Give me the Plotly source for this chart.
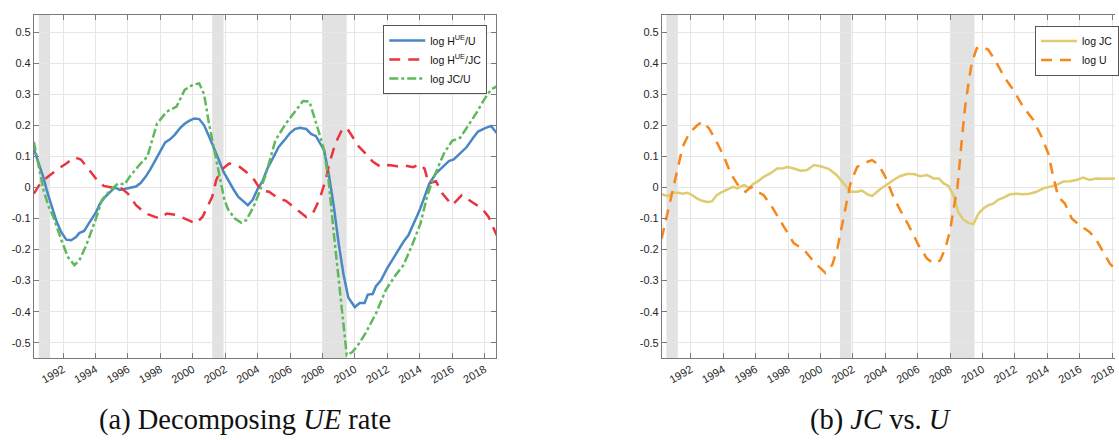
import plotly.graph_objects as go

# ---------------- data ----------------
blue_x = [1990.2, 1990.5, 1990.8, 1991.0, 1991.3, 1991.6, 1991.9, 1992.2, 1992.5, 1992.8, 1993.0, 1993.3,
          1993.6, 1994.0, 1994.3, 1994.6, 1994.9, 1995.2, 1995.5, 1995.8, 1996.1, 1996.5, 1996.8, 1997.1,
          1997.4, 1997.7, 1998.0, 1998.3, 1998.6, 1998.9, 1999.2, 1999.5, 1999.8, 2000.1, 2000.4, 2000.7,
          2001.0, 2001.3, 2001.6, 2001.9, 2002.2, 2002.5, 2002.8, 2003.1, 2003.4, 2003.7, 2004.0, 2004.3,
          2004.6, 2005.0, 2005.3, 2005.7, 2006.0, 2006.3, 2006.6, 2007.0, 2007.3, 2007.6, 2007.9, 2008.1,
          2008.4, 2008.7, 2009.0, 2009.3, 2009.6, 2010.0, 2010.3, 2010.6, 2010.8, 2011.1, 2011.3, 2011.6,
          2012.0, 2012.4, 2012.7, 2013.0, 2013.3, 2013.6, 2014.0, 2014.3, 2014.6, 2015.0, 2015.4, 2015.8,
          2016.1, 2016.5, 2016.9, 2017.3, 2017.6, 2018.0, 2018.4, 2018.75]
blue_y = [0.124, 0.08, 0.03, -0.01, -0.06, -0.11, -0.145, -0.168, -0.17, -0.16, -0.147, -0.14,
          -0.115, -0.083, -0.05, -0.03, -0.015, 0.0, -0.008, -0.005, 0.0, 0.003, 0.015, 0.035,
          0.06, 0.09, 0.12, 0.145, 0.155, 0.17, 0.19, 0.205, 0.215, 0.222, 0.22, 0.2,
          0.165, 0.13, 0.09, 0.05, 0.02, -0.005, -0.03, -0.045, -0.057, -0.04, -0.005, 0.02,
          0.06, 0.1, 0.13, 0.155, 0.175, 0.188, 0.192, 0.188, 0.172, 0.165, 0.14, 0.12,
          0.04, -0.06, -0.18, -0.28, -0.355, -0.385, -0.372, -0.372, -0.345, -0.343, -0.318, -0.3,
          -0.26, -0.225, -0.2, -0.175, -0.154, -0.12, -0.073, -0.03, 0.013, 0.045, 0.065, 0.085,
          0.09, 0.11, 0.13, 0.16, 0.18, 0.19, 0.198, 0.175]

red_x = [1990.2, 1990.5, 1990.8, 1991.2, 1991.6, 1992.2, 1992.7, 1993.1, 1993.4, 1993.75, 1994.1, 1994.5,
         1995.0, 1995.6, 1996.0, 1996.5, 1997.1, 1997.95, 1998.4, 1999.0, 1999.5, 2000.2, 2000.6, 2000.9,
         2001.2, 2001.45, 2001.75, 2002.25, 2002.9, 2003.3, 2003.8, 2004.2, 2004.7, 2005.3, 2005.75, 2006.35,
         2007.0, 2007.4, 2007.8, 2008.2, 2008.4, 2008.8, 2009.2, 2009.5, 2009.85, 2010.25, 2010.65, 2011.1,
         2011.6, 2012.1, 2012.6, 2013.1, 2013.6, 2014.0, 2014.3, 2014.56, 2015.0, 2015.4, 2016.0, 2016.6,
         2017.2, 2017.85, 2018.25, 2018.75]
red_y = [-0.02, 0.005, 0.024, 0.04, 0.056, 0.077, 0.097, 0.09, 0.07, 0.045, 0.024, 0.005,
         0.0, -0.003, -0.02, -0.057, -0.084, -0.1, -0.084, -0.089, -0.1, -0.116, -0.095, -0.06,
         -0.03, 0.024, 0.056, 0.077, 0.066, 0.05, 0.024, -0.009, -0.014, -0.036, -0.043, -0.068,
         -0.095, -0.084, -0.041, 0.024, 0.072, 0.142, 0.185, 0.192, 0.163, 0.131, 0.11, 0.083,
         0.066, 0.072, 0.068, 0.07, 0.065, 0.075, 0.06, 0.013, 0.02, -0.02, -0.057, -0.025,
         -0.046, -0.068, -0.095, -0.154]

green_x = [1990.2, 1990.5, 1990.8, 1991.1, 1991.4, 1991.9, 1992.3, 1992.7, 1993.0, 1993.4, 1993.7, 1994.0,
           1994.4, 1994.9, 1995.4, 1995.8, 1996.1, 1996.7, 1997.2, 1997.5, 1997.8, 1998.4, 1999.0, 1999.5,
           2000.0, 2000.4, 2000.7, 2001.0, 2001.3, 2001.6, 2001.95, 2002.2, 2002.6, 2003.0, 2003.3, 2003.7,
           2004.0, 2004.5, 2005.1, 2005.75, 2006.4, 2006.8, 2007.2, 2007.5, 2007.8, 2008.1, 2008.4, 2008.7,
           2009.0, 2009.3, 2009.5, 2009.85, 2010.25, 2010.65, 2011.3, 2011.9, 2012.5, 2013.0, 2013.5, 2014.05,
           2014.45, 2014.8, 2015.2, 2015.5, 2016.0, 2016.5, 2017.0, 2017.5, 2018.0, 2018.4, 2018.75]
green_y = [0.147, 0.07, -0.01, -0.06, -0.095, -0.17, -0.224, -0.25, -0.235, -0.19, -0.15, -0.105,
           -0.04, -0.01, 0.013, 0.01, 0.034, 0.072, 0.099, 0.15, 0.206, 0.244, 0.26, 0.314,
           0.33, 0.335, 0.30, 0.206, 0.131, 0.046, -0.04, -0.073, -0.1, -0.114, -0.105, -0.068,
           -0.03, 0.04, 0.152, 0.206, 0.25, 0.278, 0.276, 0.228, 0.175, 0.12, 0.013, -0.148,
           -0.3, -0.46, -0.54, -0.53, -0.503, -0.47, -0.406, -0.331, -0.283, -0.25, -0.19, -0.116,
           -0.03, 0.024, 0.07, 0.11, 0.15, 0.16, 0.2, 0.24, 0.285, 0.315, 0.325]

jc_x = [1990.2, 1990.6, 1990.87, 1991.2, 1991.5, 1991.8, 1992.1, 1992.4, 1992.7, 1993.0, 1993.3, 1993.6,
        1993.95, 1994.26, 1994.6, 1994.87, 1995.3, 1995.6, 1995.9, 1996.1, 1996.5, 1996.9, 1997.33, 1997.7,
        1997.95, 1998.36, 1998.77, 1999.18, 1999.6, 2000.0, 2000.5, 2001.0, 2001.44, 2001.85, 2002.26, 2002.56,
        2002.9, 2003.18, 2003.6, 2004.0, 2004.5, 2004.9, 2005.33, 2005.75, 2006.15, 2006.57, 2006.98, 2007.3,
        2007.6, 2007.9, 2008.2, 2008.5, 2008.8, 2009.13, 2009.44, 2009.75, 2010.05, 2010.36, 2010.67, 2010.98,
        2011.3, 2011.7, 2012.1, 2012.5, 2012.9, 2013.33, 2013.75, 2014.15, 2014.56, 2014.98, 2015.38, 2015.8,
        2016.2, 2016.6, 2017.0, 2017.44, 2017.85, 2018.15, 2018.75]
jc_y = [-0.022, -0.028, -0.017, -0.017, -0.02, -0.017, -0.025, -0.036, -0.043, -0.047, -0.045, -0.025,
        -0.014, -0.007, 0.002, -0.003, 0.008, -0.003, 0.013, 0.018, 0.034, 0.045, 0.061, 0.062,
        0.066, 0.061, 0.054, 0.056, 0.072, 0.068, 0.06, 0.04, 0.013, -0.014, -0.014, -0.01,
        -0.022, -0.028, -0.009, 0.007, 0.024, 0.036, 0.043, 0.043, 0.036, 0.04, 0.029, 0.029,
        0.013, 0.005, -0.025, -0.079, -0.103, -0.114, -0.118, -0.084, -0.068, -0.057, -0.052, -0.039,
        -0.033, -0.022, -0.02, -0.022, -0.02, -0.014, -0.003, 0.002, 0.008, 0.019, 0.02, 0.024,
        0.032, 0.024, 0.029, 0.028, 0.029, 0.029, 0.03]

u_x = [1990.2, 1990.46, 1990.87, 1991.18, 1991.5, 1991.9, 1992.4, 1992.72, 1993.13, 1993.64, 1994.05, 1994.46,
       1994.98, 1995.38, 1995.7, 1996.0, 1996.5, 1997.0, 1997.5, 1997.95, 1998.36, 1998.98, 1999.6, 2000.0,
       2000.3, 2000.72, 2001.03, 2001.27, 2001.54, 2001.85, 2002.26, 2002.7, 2003.18, 2003.6, 2004.0, 2004.5,
       2004.92, 2005.44, 2006.05, 2006.57, 2006.98, 2007.38, 2007.7, 2008.0, 2008.2, 2008.45, 2008.7, 2008.9,
       2009.13, 2009.33, 2009.64, 2009.95, 2010.36, 2010.87, 2011.38, 2011.9, 2012.5, 2013.13, 2013.64, 2014.05,
       2014.36, 2014.67, 2015.08, 2015.5, 2016.0, 2016.6, 2017.03, 2017.44, 2017.85, 2018.15, 2018.5, 2018.75]
u_y = [-0.165, -0.105, -0.01, 0.056, 0.131, 0.174, 0.2, 0.212, 0.19, 0.142, 0.099, 0.045,
       0.002, -0.014, 0.002, -0.01, -0.025, -0.062, -0.105, -0.148, -0.18, -0.2, -0.24, -0.26,
       -0.275, -0.25, -0.2, -0.138, -0.062, 0.013, 0.066, 0.078, 0.088, 0.072, 0.034, -0.03,
       -0.073, -0.122, -0.186, -0.229, -0.245, -0.235, -0.197, -0.138, -0.073, 0.0, 0.142, 0.249,
       0.335, 0.4, 0.448, 0.454, 0.443, 0.4, 0.352, 0.314, 0.26, 0.217, 0.163, 0.11,
       0.034, -0.03, -0.052, -0.1, -0.122, -0.143, -0.17, -0.208, -0.245, -0.261, -0.28, -0.29]

recessions = [(1990.5, 1991.2), (2001.2, 2001.9), (2008.0, 2009.5)]
year_ticks = list(range(1992, 2019, 2))
y_ticks = [0.5, 0.4, 0.3, 0.2, 0.1, 0, -0.1, -0.2, -0.3, -0.4, -0.5]
y_tick_labels = ["0.5", "0.4", "0.3", "0.2", "0.1", "0", "-0.1", "-0.2", "-0.3", "-0.4", "-0.5"]

# ---------------- figure ----------------
W, H = 1119, 440
fig = go.Figure()

BLUE = "#4a87c5"
RED = "#e8343c"
GREEN = "#5fb85a"
YELLOW = "#dfcb70"
ORANGE = "#f7861c"

fig.add_trace(go.Scatter(x=blue_x, y=blue_y, mode="lines", name="log H<sup>UE</sup>/U",
                         line=dict(color=BLUE, width=2.5), xaxis="x", yaxis="y", legend="legend"))
fig.add_trace(go.Scatter(x=red_x, y=red_y, mode="lines", name="log H<sup>UE</sup>/JC",
                         line=dict(color=RED, width=2.5, dash="11px,8px"), xaxis="x", yaxis="y", legend="legend"))
fig.add_trace(go.Scatter(x=green_x, y=green_y, mode="lines", name="log JC/U",
                         line=dict(color=GREEN, width=2.5, dash="9px,3px,3px,3px"), xaxis="x", yaxis="y", legend="legend"))
fig.add_trace(go.Scatter(x=jc_x, y=jc_y, mode="lines", name="log JC",
                         line=dict(color=YELLOW, width=2.5), xaxis="x2", yaxis="y2", legend="legend2"))
fig.add_trace(go.Scatter(x=u_x, y=u_y, mode="lines", name="log U",
                         line=dict(color=ORANGE, width=2.5, dash="11px,8px"), xaxis="x2", yaxis="y2", legend="legend2"))

# pixel geometry
top_px, bot_px = 15, 358
lx0, lx1 = 34, 498
rx0 = 664.3

shapes = []
for xr in ["x", "x2"]:
    for a, b in recessions:
        shapes.append(dict(type="rect", xref=xr, yref=("y domain" if xr == "x" else "y2 domain"),
                           x0=a, x1=b, y0=0, y1=1, fillcolor="#e2e2e2", line=dict(width=0), layer="below"))

tickfont = dict(family="Liberation Sans, Arial, sans-serif", size=11, color="#262626")
common_x = dict(tickmode="array", tickvals=year_ticks, ticktext=[str(t) for t in year_ticks],
                tickangle=-30, tickfont=tickfont, showgrid=True, gridcolor="#e6e6e6", gridwidth=1,
                showline=True, linecolor="#7a7a7a", linewidth=1, ticks="inside", ticklen=5,
                tickcolor="#7a7a7a", zeroline=False, automargin=False)
common_y = dict(tickmode="array", tickvals=y_ticks, ticktext=y_tick_labels, tickfont=tickfont,
                showgrid=True, gridcolor="#e6e6e6", gridwidth=1, showline=True, linecolor="#7a7a7a",
                linewidth=1, ticks="inside", ticklen=5, tickcolor="#7a7a7a", zeroline=False,
                range=[-0.549, 0.555], automargin=False)

legfont = dict(family="Liberation Sans, Arial, sans-serif", size=10.5, color="#111111")
fig.update_layout(
    width=W, height=H,
    margin=dict(l=0, r=0, t=top_px, b=H - bot_px),
    paper_bgcolor="white", plot_bgcolor="white",
    xaxis=dict(common_x, domain=[lx0 / W, lx1 / W], range=[1990.2, 2018.72], mirror="ticks", anchor="y"),
    yaxis=dict(common_y, domain=[0, 1], mirror="ticks", anchor="x"),
    xaxis2=dict(common_x, domain=[rx0 / W, 1.0], range=[1990.22, 2018.17], mirror="ticks", anchor="y2"),
    yaxis2=dict(common_y, domain=[0, 1], mirror=False, anchor="x2"),
    shapes=shapes,
    legend=dict(x=489 / W, xanchor="right", y=1 - (25 - top_px) / (bot_px - top_px), yanchor="top",
                bgcolor="white", bordercolor="#555555", borderwidth=1, font=legfont,
                tracegroupgap=0, itemwidth=36),
    legend2=dict(x=1039 / W, xanchor="left", y=1 - (25.5 - top_px) / (bot_px - top_px), yanchor="top",
                 bgcolor="white", bordercolor="#555555", borderwidth=1, font=legfont,
                 tracegroupgap=0, itemwidth=36),
    showlegend=True,
)

cap_font = dict(family="Liberation Serif, DejaVu Serif, serif", size=28.5, color="#111111")
fig.add_annotation(text="(a) Decomposing <i>UE</i> rate", xref="paper", yref="paper",
                   x=246 / W, y=-(420 - bot_px) / (bot_px - top_px), xanchor="center", yanchor="middle",
                   showarrow=False, font=cap_font)
fig.add_annotation(text="(b) <i>JC</i> vs. <i>U</i>", xref="paper", yref="paper",
                   x=884 / W, y=-(420 - bot_px) / (bot_px - top_px), xanchor="center", yanchor="middle",
                   showarrow=False, font=cap_font)

fig.write_html("out.html", config={"displayModeBar": False},
               post_script="document.body.style.margin='0';document.body.style.padding='0';"
                           "document.body.style.overflow='hidden';")
